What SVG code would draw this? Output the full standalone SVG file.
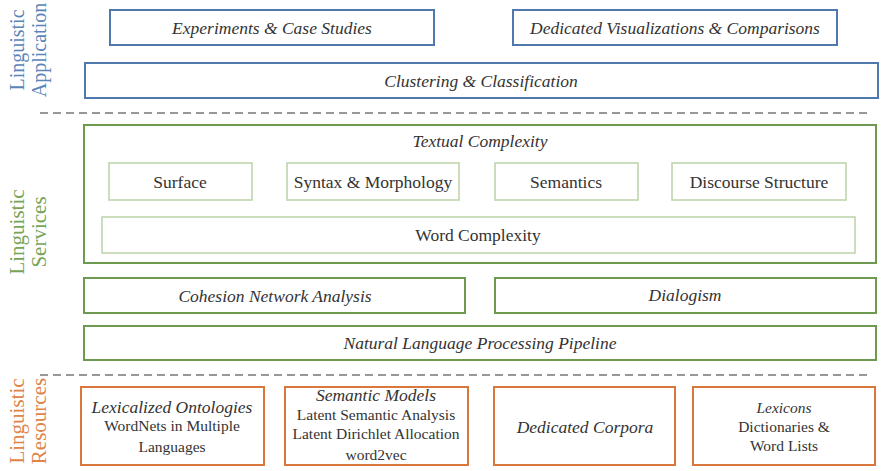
<svg xmlns="http://www.w3.org/2000/svg" width="884" height="471" viewBox="0 0 884 471">
<style>
text{font-family:"Liberation Serif","Times New Roman",serif;fill:#333;text-anchor:middle}
.it{font-style:italic;font-size:17.5px}
.rg{font-size:17.5px}
.sm{font-size:15.5px}
.blue{fill:#fff;stroke:#4f79ad;stroke-width:2}
.green{fill:#fff;stroke:#6e9a50;stroke-width:2}
.lg{fill:#fff;stroke:#bcd2a8;stroke-width:1.5}
.orange{fill:#fff;stroke:#d9783a;stroke-width:2}
.side{font-size:21px}
.dash{stroke:#777;stroke-width:1.5;stroke-dasharray:8,5}
</style>
<g id="side-labels">
<text class="side" style="fill:#5b84b8;font-size:20px" transform="translate(24,50) rotate(-90)">Linguistic</text>
<text class="side" style="fill:#5b84b8;font-size:20px" transform="translate(46,50) rotate(-90)">Application</text>
<text class="side" style="fill:#78a458" transform="translate(24,232) rotate(-90)">Linguistic</text>
<text class="side" style="fill:#78a458" transform="translate(46,232) rotate(-90)">Services</text>
<text class="side" style="fill:#e0844a" transform="translate(24,421) rotate(-90)">Linguistic</text>
<text class="side" style="fill:#e0844a" transform="translate(46,421) rotate(-90)">Resources</text>
</g>
<g id="separators">
<line class="dash" x1="40" y1="113" x2="872" y2="113"/>
<line class="dash" x1="40" y1="375" x2="872" y2="375"/>
</g>
<g id="experiments"><rect class="blue" x="110" y="10" width="324" height="35"/><text class="it" x="272" y="34">Experiments &amp; Case Studies</text></g>
<g id="visualizations"><rect class="blue" x="513" y="10" width="324" height="35"/><text class="it" x="675" y="34">Dedicated Visualizations &amp; Comparisons</text></g>
<g id="clustering"><rect class="blue" x="85" y="63" width="793" height="35"/><text class="it" x="481" y="87">Clustering &amp; Classification</text></g>
<g id="textual-complexity"><rect class="green" x="84" y="125" width="792" height="138"/><text class="it" x="480" y="147">Textual Complexity</text></g>
<g id="surface"><rect class="lg" x="109" y="163" width="143" height="37"/><text class="rg" x="180" y="188">Surface</text></g>
<g id="syntax"><rect class="lg" x="287" y="163" width="172" height="37"/><text class="rg" x="373" y="188">Syntax &amp; Morphology</text></g>
<g id="semantics"><rect class="lg" x="495" y="163" width="143" height="37"/><text class="rg" x="566" y="188">Semantics</text></g>
<g id="discourse"><rect class="lg" x="672" y="163" width="174" height="37"/><text class="rg" x="759" y="188">Discourse Structure</text></g>
<g id="word-complexity"><rect class="lg" x="102" y="217" width="753" height="36"/><text class="rg" x="478" y="241">Word Complexity</text></g>
<g id="cohesion"><rect class="green" x="84" y="278" width="381" height="35"/><text class="it" x="275" y="302">Cohesion Network Analysis</text></g>
<g id="dialogism"><rect class="green" x="495" y="278" width="381" height="35"/><text class="it" x="685" y="301">Dialogism</text></g>
<g id="nlp"><rect class="green" x="84" y="326" width="792" height="34"/><text class="it" x="480" y="349">Natural Language Processing Pipeline</text></g>
<g id="lexicalized"><rect class="orange" x="81" y="387" width="183" height="78"/><text class="it" x="172" y="413">Lexicalized Ontologies</text><text class="sm" x="172" y="431">WordNets in Multiple</text><text class="sm" x="172" y="452">Languages</text></g>
<g id="semantic-models"><rect class="orange" x="285" y="387" width="183" height="78"/><text class="it" x="376" y="401">Semantic Models</text><text class="sm" x="376" y="420">Latent Semantic Analysis</text><text class="sm" x="376" y="439">Latent Dirichlet Allocation</text><text class="sm" x="376" y="460">word2vec</text></g>
<g id="corpora"><rect class="orange" x="494" y="387" width="181" height="78"/><text class="it" x="585" y="433">Dedicated Corpora</text></g>
<g id="lexicons"><rect class="orange" x="693" y="387" width="182" height="78"/><text class="sm" font-style="italic" x="784" y="413">Lexicons</text><text class="sm" x="784" y="432">Dictionaries &amp;</text><text class="sm" x="784" y="451">Word Lists</text></g>
</svg>
